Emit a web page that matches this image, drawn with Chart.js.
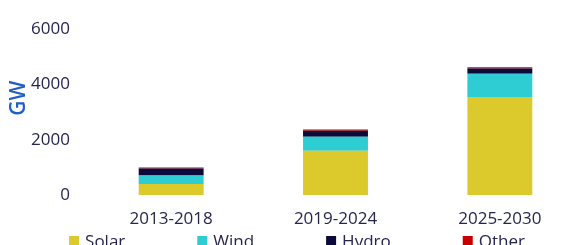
<!DOCTYPE html>
<html>
<head>
<meta charset="utf-8">
<script src="https://cdn.jsdelivr.net/npm/chart.js@4.4.0/dist/chart.umd.min.js"></script>
<style>
  html, body { margin: 0; padding: 0; background: #ffffff; overflow: hidden; width: 586px; height: 245px; }
  canvas { display: block; }
</style>
</head>
<body>
<canvas id="c" width="586" height="260"></canvas>
<script>
const categories = ['2013-2018', '2019-2024', '2025-2030'];
const solar = [400, 1600, 3550];
const wind  = [305, 510, 840];
const hydro = [250, 215, 190];
const other = [40, 45, 45];
const yTicks = [0, 2000, 4000, 6000];
const yTitle = 'GW';

const textColor = '#25254f';
const fontFamily = '"Open Sans", "Noto Sans", sans-serif';

const yTitlePlugin = {
  id: 'yTitlePlugin',
  afterDraw(chart) {
    const ctx = chart.ctx;
    const y = chart.scales.y;
    ctx.save();
    ctx.translate(19.5, y.getPixelForValue(3500));
    ctx.rotate(-Math.PI / 2);
    ctx.font = '600 21px ' + fontFamily;
    ctx.fillStyle = '#1f5fc6';
    ctx.textAlign = 'center';
    ctx.textBaseline = 'middle';
    ctx.fillText(yTitle, 0, 0);
    ctx.restore();
  }
};

const legendPlugin = {
  id: 'bottomLegend',
  afterDraw(chart) {
    const ctx = chart.ctx;
    const sets = chart.data.datasets;
    const box = 10, boxGap = 6, itemGap = 72;
    ctx.save();
    ctx.font = '17px ' + fontFamily;
    ctx.textBaseline = 'middle';
    ctx.textAlign = 'left';
    const widths = sets.map(d => ctx.measureText(d.label).width);
    const total = widths.reduce((a, w) => a + box + boxGap + w, 0) + itemGap * (sets.length - 1);
    let x = 297 - total / 2;
    const boxTop = 236, textY = 242;
    sets.forEach((d, i) => {
      ctx.fillStyle = d.backgroundColor;
      ctx.fillRect(x, boxTop, box, box);
      ctx.fillStyle = textColor;
      ctx.fillText(d.label, x + box + boxGap, textY);
      x += box + boxGap + widths[i] + itemGap;
    });
    ctx.restore();
  }
};

new Chart(document.getElementById('c'), {
  type: 'bar',
  data: {
    labels: categories,
    datasets: [
      { label: 'Solar', data: solar, backgroundColor: '#dcca2c' },
      { label: 'Wind',  data: wind,  backgroundColor: '#2ecdd3' },
      { label: 'Hydro', data: hydro, backgroundColor: '#0b0a3a' },
      { label: 'Other', data: other, backgroundColor: '#c80000' }
    ]
  },
  options: {
    responsive: false,
    animation: false,
    devicePixelRatio: 1,
    layout: { padding: { left: 0, right: 4, top: 27.5, bottom: 16.6 } },
    datasets: { bar: { categoryPercentage: 1, barPercentage: 0.395, borderWidth: 0 } },
    scales: {
      x: {
        stacked: true,
        grid: { display: false, drawTicks: false },
        border: { display: false },
        ticks: { color: textColor, font: { family: fontFamily, size: 17 }, padding: 14, maxRotation: 0 }
      },
      y: {
        stacked: true,
        min: 0,
        max: 6000,
        afterBuildTicks(scale) { scale.ticks = yTicks.map(v => ({ value: v })); },
        afterFit(scale) { scale.width = 89; },
        grid: { display: false, drawTicks: false },
        border: { display: false },
        ticks: {
          color: textColor, font: { family: fontFamily, size: 17 }, padding: 19,
          autoSkip: false,
          callback: v => String(v)
        }
      }
    },
    plugins: {
      tooltip: { enabled: false },
      legend: { display: false }
    }
  },
  plugins: [yTitlePlugin, legendPlugin]
});
</script>
</body>
</html>
